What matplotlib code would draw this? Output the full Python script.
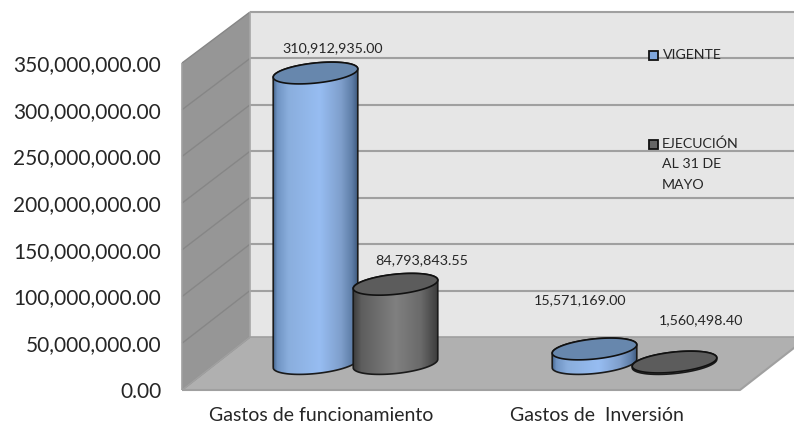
import numpy as np
import matplotlib
matplotlib.use('Agg')
import matplotlib.pyplot as plt
from matplotlib.colors import LinearSegmentedColormap
from matplotlib.patches import Polygon, PathPatch, Rectangle
from matplotlib.path import Path
from matplotlib.transforms import ScaledTranslation

categories = ['Gastos de funcionamiento', 'Gastos de  Inversión']
vigente = [310912935.00, 15571169.00]
ejecucion = [84793843.55, 1560498.40]
vigente_labels = ['310,912,935.00', '15,571,169.00']
ejecucion_labels = ['84,793,843.55', '1,560,498.40']
y_ticks = [0, 50000000, 100000000, 150000000, 200000000, 250000000, 300000000, 350000000]
legend_vigente = 'VIGENTE'
legend_ejecucion = ['EJECUCIÓN', 'AL 31 DE', 'MAYO']

W, H = 794, 425
plt.rcParams['font.family'] = ['Lato', 'DejaVu Sans']

fig = plt.figure(figsize=(W / 100, H / 100), dpi=100, facecolor='white')
ax = fig.add_axes([182 / W, 35 / H, 558 / W, 327 / H])
ax.set_xlim(0, 2)
ax.set_ylim(0, 350000000)

# pixels per data unit, used for the fake 3d depth and the ellipses
sx = 558 / 2
sy = 327 / 350000000
dep_x = 68 / sx
dep_y = 53 / sy
right_end = (W - 182 + 5) / sx
top_val = y_ticks[-1]
back_scale = 325 / 327  # back wall is a little shorter than the front plane

blue_map = LinearSegmentedColormap.from_list('b', [(0, '#46658e'), (0.05, '#6f93c2'), (0.18, '#8aaedd'),
                                                    (0.55, '#97bdf2'), (0.8, '#7f9fcc'), (0.93, '#5f7ea8'),
                                                    (1, '#3f5a80')])
gray_map = LinearSegmentedColormap.from_list('g', [(0, '#3c3c3c'), (0.1, '#5e5e5e'), (0.5, '#808080'),
                                                    (0.8, '#6a6a6a'), (1, '#3c3c3c')])


def poly(pts, color, z):
    ax.add_patch(Polygon(pts, closed=True, facecolor=color, edgecolor='none', zorder=z, clip_on=False))


def line(xs, ys, color, lw, z):
    ax.plot(xs, ys, color=color, lw=lw, zorder=z, clip_on=False, solid_capstyle='butt')


def back(v):
    return v * back_scale + dep_y


# walls and floor
poly([(dep_x, dep_y), (right_end, dep_y), (right_end, back(top_val)), (dep_x, back(top_val))], '#e6e6e6', 1)
poly([(0, 0), (dep_x, dep_y), (dep_x, back(top_val)), (0, top_val)], '#969696', 1)
poly([(0, 0), (2, 0), (right_end, (right_end - 2) * dep_y / dep_x), (right_end, dep_y), (dep_x, dep_y)], '#b0b0b0', 1)

for v in y_ticks:
    line([0, dep_x], [v, back(v)], '#868686', 1.0, 2)
    if v > 0:
        line([dep_x, right_end], [back(v), back(v)], '#a0a0a0', 1.5, 2)
line([dep_x, dep_x], [dep_y, back(top_val)], '#a6a6a6', 1.2, 2)
line([0, 0], [0, top_val], '#a0a0a0', 1.2, 2)
line([0, 2, right_end], [0, 0, (right_end - 2) * dep_y / dep_x], '#a0a0a0', 1.5, 2)
line([0, dep_x, right_end], [0, dep_y, dep_y], '#a0a0a0', 1.2, 2)


def cylinder(x, val, cmap, top_color, z):
    a, b = 42.5, 10.0
    th = np.radians(6)
    x0 = x + dep_x / 2
    y0 = dep_y / 2
    t0 = np.arctan2(-b * np.sin(th), a * np.cos(th))

    def arc(t, base):
        ex = a * np.cos(t) * np.cos(th) - b * np.sin(t) * np.sin(th)
        ey = a * np.cos(t) * np.sin(th) + b * np.sin(t) * np.cos(th)
        return np.column_stack([x0 + ex / sx, base + ey / sy])

    low = arc(np.linspace(t0 + np.pi, t0 + 2 * np.pi, 60), y0)
    up = arc(np.linspace(t0, t0 + np.pi, 60), y0 + val)
    body = np.vstack([low, up, low[:1]])
    path = Path(body)
    ext = [body[:, 0].min(), body[:, 0].max(), body[:, 1].min(), body[:, 1].max()]
    im = ax.imshow(np.linspace(0, 1, 256).reshape(1, -1), cmap=cmap, extent=ext, aspect='auto', zorder=z)
    im.set_clip_path(PathPatch(path, transform=ax.transData))
    ax.add_patch(PathPatch(path, facecolor='none', edgecolor='#1a1a1a', lw=1.2, zorder=z + 0.1, clip_on=False))
    top = arc(np.linspace(0, 2 * np.pi, 120), y0 + val)
    ax.add_patch(Polygon(top, closed=True, facecolor=top_color, edgecolor='#111111', lw=1.2, zorder=z + 0.2,
                         clip_on=False))
    return x0, y0 + val


gap = 40 / sx
label_off_v = [(17, 25), (-14, 49)]
label_off_e = [(26, 24), (27, 42)]
for i in range(len(categories)):
    xc = i + 0.5
    cx, cy = cylinder(xc - gap, vigente[i], blue_map, '#6787ad', 3 + i * 2)
    ax.annotate(vigente_labels[i], (cx, cy), xytext=label_off_v[i], textcoords='offset pixels',
                ha='center', va='center', fontsize=10.3, color='#262626', zorder=20)
    cx, cy = cylinder(xc + gap, ejecucion[i], gray_map, '#5c5c5c', 4 + i * 2)
    ax.annotate(ejecucion_labels[i], (cx, cy), xytext=label_off_e[i], textcoords='offset pixels',
                ha='center', va='center', fontsize=10.3, color='#262626', zorder=20)

ax.set_xlim(0, 2)
ax.set_ylim(0, 350000000)
for s in ax.spines.values():
    s.set_visible(False)
ax.patch.set_visible(False)
ax.set_yticks(y_ticks)
ax.set_yticklabels(['{:,.2f}'.format(v) for v in y_ticks], fontsize=15, color='#262626')
ax.set_xticks([i + 0.5 for i in range(len(categories))])
ax.set_xticklabels(categories, fontsize=14, color='#262626')
ax.tick_params(axis='y', length=0, pad=15)
ax.tick_params(axis='x', length=0, pad=12)
lab = ax.get_xticklabels()[1]
lab.set_transform(lab.get_transform() + ScaledTranslation(-4 / 100, 0, fig.dpi_scale_trans))


# legend, written by hand because the original entries are far apart
def fig_text(px, py, s):
    fig.text(px / W, 1 - py / H, s, fontsize=10.2, color='#262626', ha='left', va='center', zorder=30)


def swatch(px, py, color):
    fig.add_artist(Rectangle(((px - 4.5) / W, 1 - (py + 4.5) / H), 9 / W, 9 / H, transform=fig.transFigure,
                             facecolor=color, edgecolor='#111111', lw=1.3, zorder=30))


swatch(653, 55, '#7fa6dc')
fig_text(663, 55, legend_vigente)
swatch(653, 144, '#666666')
for j, s in enumerate(legend_ejecucion):
    fig_text(662, 144 + j * 20.5, s)

fig.savefig('out.png', dpi=100)
